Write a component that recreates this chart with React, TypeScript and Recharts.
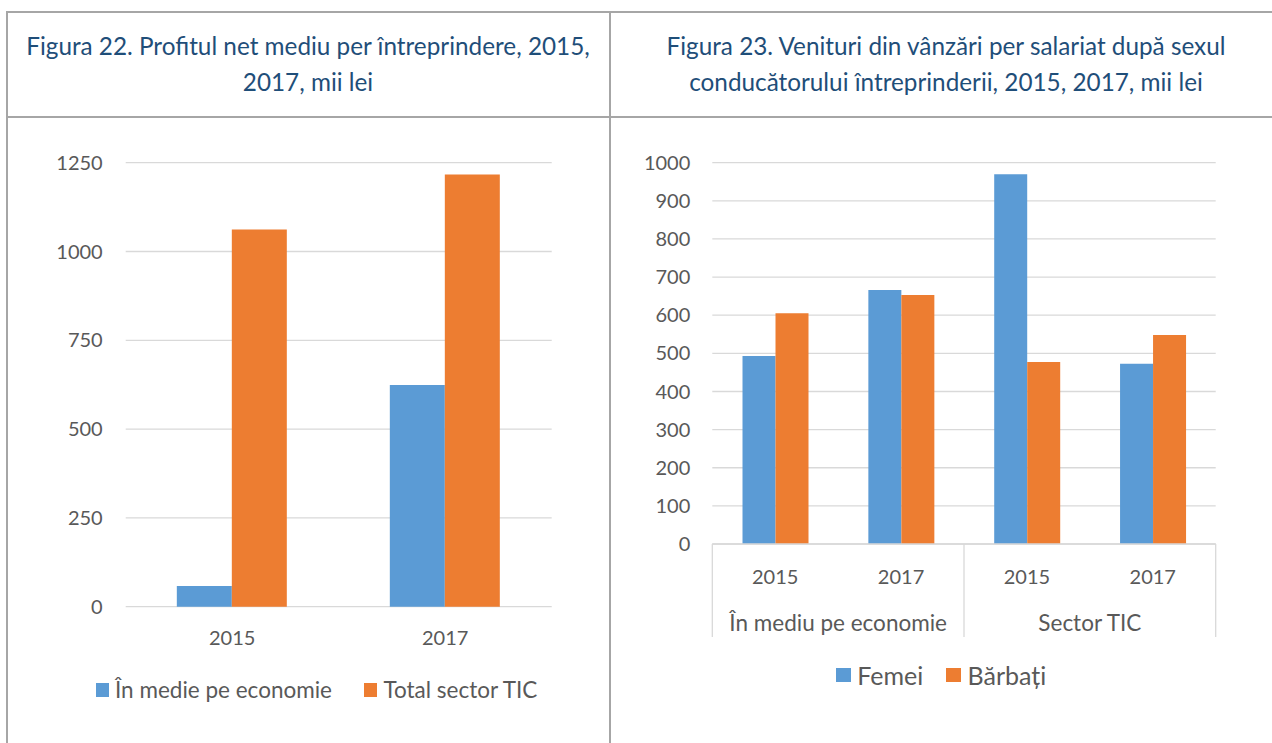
import React from 'react';
import { BarChart, Bar, XAxis, YAxis, CartesianGrid, Legend } from 'recharts';

// ---- Figura 22 data ----
const fig22Years = ['2015', '2017'];
const fig22Economie = [58, 624];
const fig22TIC = [1062, 1217];
const fig22Ticks = [0, 250, 500, 750, 1000, 1250];
const fig22Series = ['În medie pe economie', 'Total sector TIC'];

// ---- Figura 23 data ----
const fig23Groups = ['În mediu pe economie', 'În mediu pe economie', 'Sector TIC', 'Sector TIC'];
const fig23Years = ['2015', '2017', '2015', '2017'];
const fig23Femei = [493, 666, 970, 473];
const fig23Barbati = [605, 653, 477, 548];
const fig23Ticks = [0, 100, 200, 300, 400, 500, 600, 700, 800, 900, 1000];
const fig23Series = ['Femei', 'Bărbați'];

const title22 = ['Figura 22. Profitul net mediu per întreprindere, 2015,', '2017, mii lei'];
const title23 = ['Figura 23. Venituri din vânzări per salariat după sexul', 'conducătorului întreprinderii, 2015, 2017, mii lei'];

const BLUE = '#5b9bd5';
const ORANGE = '#ed7d31';
const GRID = '#d9d9d9';
const TEXT = '#595959';
const FONT = 'Lato, "Noto Sans", sans-serif';
const BORDER = '#a6a6a6';
const TITLE = '#1f4e79';

const data22 = fig22Years.map((y, i) => ({ year: y, eco: fig22Economie[i], tic: fig22TIC[i] }));
const data23 = fig23Years.map((y, i) => ({ year: y, group: fig23Groups[i], femei: fig23Femei[i], barbati: fig23Barbati[i] }));

const YEAR_AXIS_H = 47;
const GROUP_AXIS_H = 46;
const GROUP_TICK_SIZE = 6;
const GROUP_TICK_MARGIN = 18;

const makeLegend = (order: string[], fontSize: number, square: number, gapIcon: number, gapItem: number) => (props: any) => {
  const raw = props.payload || [];
  const payload = order
    .map((name) => raw.find((p: any) => p.value === name))
    .filter(Boolean);
  return (
    <div style={{ display: 'flex', alignItems: 'center', fontFamily: FONT, fontSize, color: TEXT, lineHeight: '28px', whiteSpace: 'nowrap' }}>
      {payload.map((p: any, i: number) => (
        <div key={i} style={{ display: 'flex', alignItems: 'center', marginRight: i < payload.length - 1 ? gapItem : 0 }}>
          <span style={{ display: 'inline-block', width: square, height: square, background: p.color, marginRight: gapIcon }} />
          <span>{p.value}</span>
        </div>
      ))}
    </div>
  );
};

const GroupTick = (props: any) => {
  const { x, y, payload, index, visibleTicksCount } = props;
  const half = typeof payload?.offset === 'number' && payload.offset > 0 ? payload.offset : 125.85;
  const axisTop = y - GROUP_TICK_SIZE - GROUP_TICK_MARGIN - YEAR_AXIS_H;
  const axisBottom = axisTop + YEAR_AXIS_H + GROUP_AXIS_H;
  return (
    <g>
      <line x1={x - half} x2={x - half} y1={axisTop} y2={axisBottom} stroke={GRID} strokeWidth={1.3} />
      {index === (visibleTicksCount ?? 2) - 1 && (
        <line x1={x + half} x2={x + half} y1={axisTop} y2={axisBottom} stroke={GRID} strokeWidth={1.3} />
      )}
      <text x={x} y={y} dy="0.71em" textAnchor="middle" fill={TEXT} fontSize={22.5} fontFamily={FONT}>
        {payload.value}
      </text>
    </g>
  );
};

const tickStyle = { fontSize: 20, fill: TEXT, fontFamily: FONT };

export default function App() {
  const titleStyle: React.CSSProperties = {
    position: 'absolute', top: 28, textAlign: 'center', fontFamily: FONT, fontSize: 24.3,
    lineHeight: '36px', color: TITLE, whiteSpace: 'nowrap',
  };
  return (
    <div style={{ position: 'absolute', left: 0, top: 0, width: 1272, height: 743, background: '#fff', overflow: 'hidden' }}>
      {/* table borders */}
      <div style={{ position: 'absolute', left: 6, top: 11, width: 1300, height: 2, background: BORDER }} />
      <div style={{ position: 'absolute', left: 6, top: 116, width: 1300, height: 2, background: BORDER }} />
      <div style={{ position: 'absolute', left: 6, top: 11, width: 2, height: 760, background: BORDER }} />
      <div style={{ position: 'absolute', left: 609, top: 11, width: 2, height: 760, background: BORDER }} />

      {/* titles */}
      <div style={{ ...titleStyle, left: 308 - 300, width: 600 }}>
        {title22.map((t, i) => <div key={i}>{t}</div>)}
      </div>
      <div style={{ ...titleStyle, left: 946 - 320, width: 640 }}>
        {title23.map((t, i) => <div key={i}>{t}</div>)}
      </div>

      {/* Figura 22 chart */}
      <div style={{ position: 'absolute', left: 0, top: 118 }}>
        <BarChart width={610} height={625} data={data22} margin={{ top: 44.7, right: 58.3, bottom: 96.3, left: 0 }} barCategoryGap="24%" barGap={0}>
          <CartesianGrid horizontal vertical={false} stroke={GRID} strokeWidth={1.3} />
          <XAxis dataKey="year" axisLine={false} tickLine={false} height={40} tickSize={6} tickMargin={18} tick={tickStyle} />
          <YAxis domain={[0, 1250]} ticks={fig22Ticks} axisLine={false} tickLine={false} width={125.7} tickSize={6} tickMargin={17} tick={tickStyle} />
          <Legend verticalAlign="middle" layout="horizontal" wrapperStyle={{ top: 558, left: 95.6, width: 510 }} content={makeLegend(fig22Series, 22.5, 13.4, 6, 32)} />
          <Bar dataKey="eco" name={fig22Series[0]} fill={BLUE} isAnimationActive={false} />
          <Bar dataKey="tic" name={fig22Series[1]} fill={ORANGE} isAnimationActive={false} />
        </BarChart>
      </div>

      {/* Figura 23 chart */}
      <div style={{ position: 'absolute', left: 610, top: 118 }}>
        <BarChart width={662} height={625} data={data23} margin={{ top: 44.7, right: 56.3, bottom: 106, left: 0 }} barCategoryGap="24%" barGap={0}>
          <CartesianGrid horizontal vertical={false} stroke={GRID} strokeWidth={1.3} />
          <XAxis dataKey="year" axisLine={{ stroke: GRID, strokeWidth: 1.3 }} tickLine={false} height={YEAR_AXIS_H} tickSize={6} tickMargin={20} tick={tickStyle} />
          <XAxis xAxisId="group" dataKey="group" allowDuplicatedCategory={false} axisLine={false} tickLine={false} height={GROUP_AXIS_H} tickSize={GROUP_TICK_SIZE} tickMargin={GROUP_TICK_MARGIN} tick={<GroupTick />} interval={0} />
          <YAxis domain={[0, 1000]} ticks={fig23Ticks} axisLine={false} tickLine={false} width={102.3} tickSize={6} tickMargin={16} tick={tickStyle} interval={0} />
          <Legend verticalAlign="middle" layout="horizontal" wrapperStyle={{ top: 543, left: 226, width: 420 }} content={makeLegend(fig23Series, 25, 14.7, 6.6, 23)} />
          <Bar dataKey="femei" name={fig23Series[0]} fill={BLUE} isAnimationActive={false} />
          <Bar dataKey="barbati" name={fig23Series[1]} fill={ORANGE} isAnimationActive={false} />
        </BarChart>
      </div>
    </div>
  );
}
